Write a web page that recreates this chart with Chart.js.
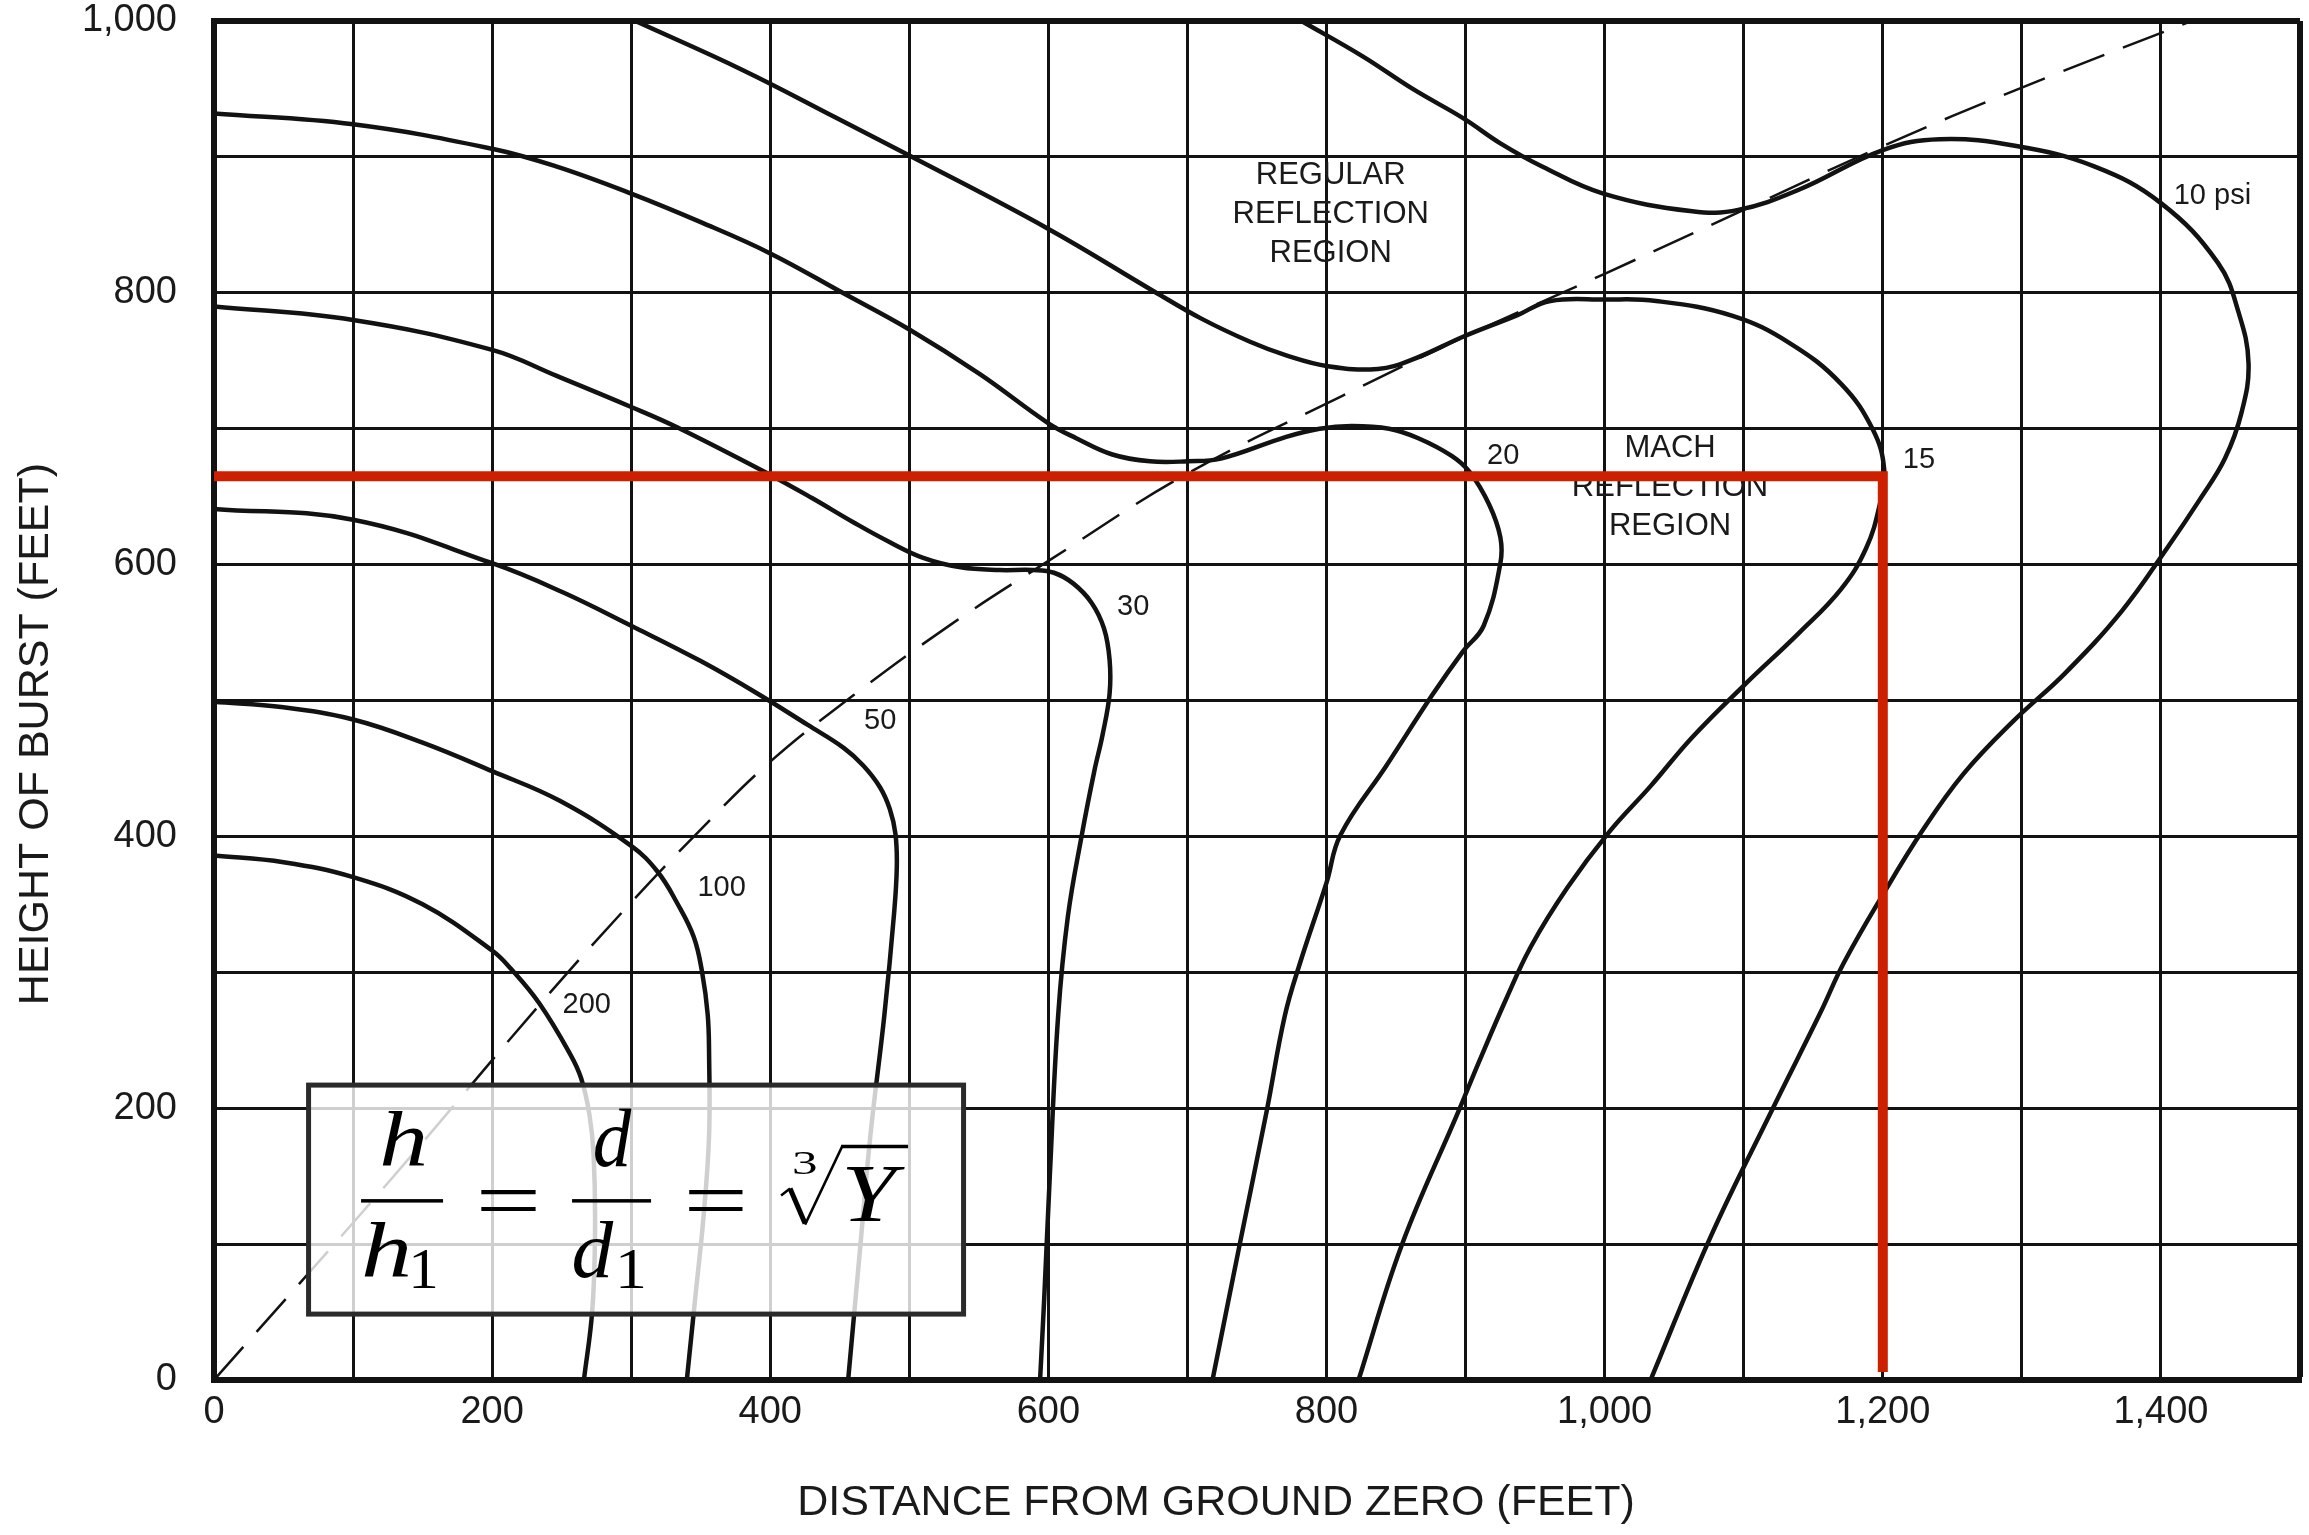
<!DOCTYPE html>
<html>
<head>
<meta charset="utf-8">
<title>Height of Burst vs Distance from Ground Zero</title>
<script src="https://cdn.jsdelivr.net/npm/chart.js@4.4.1/dist/chart.umd.min.js"></script>
<style>
  html, body { margin: 0; padding: 0; background: #ffffff; }
  #wrap { width: 2309px; height: 1535px; position: relative; }
</style>
</head>
<body>
<div id="wrap"><canvas id="chart" width="2309" height="1535"></canvas></div>
<script>
// Peak overpressure contours: [distance from ground zero (ft), height of burst (ft)]
const psi200 = [[0,386],[50,381],[100,370],[150,350],[200,316],[214,302],[234,277],[256,240],[264,222],[270,195],[273,165],[274,110],[272,51],[266,0]];
const psi100 = [[0,499],[50,495],[100,486],[150,469],[200,448],[249,426],[300,393],[319,374],[333,351],[345,326],[351,300],[355,269],[356,240],[356,180],[352,120],[346,60],[340,0]];
const psi50  = [[0,641],[100,633],[200,601],[250,580],[300,555],[350,529],[391,505],[427,482],[453,465],[467,452],[479,436],[486,420],[490,402],[491,378],[489,343],[482,268],[472,180],[464,90],[456,0]];
const psi30  = [[0,790],[100,780],[200,758],[246,739],[300,716],[333,701],[400,666],[430,649],[460,631],[485,617],[510,605],[537,598],[565,596],[589,596],[604,594],[618,586],[631,572],[640,553],[644,530],[644,505],[639,475],[633,448],[624,401],[614,341],[607,268],[601,150],[597,60],[594,0]];
const psi20  = [[0,932],[100,924],[200,906],[246,893],[300,873],[350,852],[400,829],[452,800],[500,773],[551,740],[600,704],[620,693],[646,681],[673,676],[700,676],[724,678],[771,694],[795,700],[818,702],[845,700],[866,693],[890,680],[903,668],[917,644],[925,620],[925,601],[913,555],[898,536],[876,504],[843,452],[810,401],[800,366],[781,307],[770,268],[757,198],[738,102],[718,0]];
const psi15  = [[303,1000],[380,964],[447,929],[500,901],[600,847],[676,801],[710,781],[745,764],[771,754],[801,746],[837,744],[862,751],[899,768],[936,783],[961,794],[1000,795],[1037,794],[1092,783],[1133,763],[1170,733],[1193,699],[1201,670],[1198,645],[1188,612],[1170,582],[1140,550],[1100,511],[1063,473],[1033,437],[1003,403],[973,362],[947,319],[929,280],[910,235],[895,198],[854,99],[823,0]];
const psi10  = [[782,1000],[826,974],[862,950],[899,928],[925,910],[955,893],[999,873],[1063,860],[1096,861],[1140,876],[1200,905],[1241,913],[1296,908],[1352,893],[1400,866],[1441,822],[1456,785],[1463,748],[1458,712],[1446,678],[1428,648],[1405,613],[1372,566],[1331,520],[1294,485],[1258,446],[1229,405],[1200,357],[1172,307],[1155,270],[1120,198],[1076,105],[1033,0]];

// Boundary between regular and Mach reflection (dashed)
const machBoundary = [[0,0],[125,145],[234,276],[296,347],[348,403],[400,455],[460,504],[530,556],[602,604],[700,667],[811,724],[900,768],[1000,814],[1100,861],[1200,908],[1300,951],[1422,1000]];

// Contour names and where each name sits (ft, ft)
const contourNames  = ['200', '100', '50', '30', '20', '15', '10 psi'];
const contourLabelX = [268, 365, 479, 661, 927, 1226, 1437];
const contourLabelY = [276, 362, 485, 569, 680, 677, 871];

// Region captions: lines and anchor (ft, ft) of the middle line
const regularRegion = ['REGULAR', 'REFLECTION', 'REGION'];
const regularAnchor = [803, 858];
const machRegion    = ['MACH', 'REFLECTION', 'REGION'];
const machAnchor    = [1047, 657];

// Tick labels
const xTickLabels = ['0', '200', '400', '600', '800', '1,000', '1,200', '1,400'];
const yTickLabels = ['0', '200', '400', '600', '800', '1,000'];

// Worked example: 1,200 ft from ground zero at a burst height of 665 ft
const markDistance = 1200;
const markHeight = 665;

const INK = '#121212';
const TEXT = '#1a1a1a';
const SANS = '"Liberation Sans", Arial, sans-serif';
const SERIF = '"Liberation Serif", "Times New Roman", serif';

const toPoints = arr => arr.map(p => ({ x: p[0], y: p[1] }));

function contour(label, pts) {
  return {
    label, data: toPoints(pts), showLine: true,
    borderColor: INK, borderWidth: 4.5, pointRadius: 0,
    tension: 0.4, fill: false
  };
}

// Draw a string so that its ink fills the given box exactly
function inkText(ctx, text, font, x0, y0, x1, y1) {
  ctx.save();
  ctx.font = font;
  ctx.textAlign = 'left';
  ctx.textBaseline = 'alphabetic';
  const m = ctx.measureText(text);
  const w = m.actualBoundingBoxLeft + m.actualBoundingBoxRight;
  const h = m.actualBoundingBoxAscent + m.actualBoundingBoxDescent;
  const sx = (x1 - x0) / w, sy = (y1 - y0) / h;
  ctx.translate(x0 + m.actualBoundingBoxLeft * sx, y0 + m.actualBoundingBoxAscent * sy);
  ctx.scale(sx, sy);
  ctx.fillText(text, 0, 0);
  ctx.restore();
}

const overlay = {
  id: 'overlay',
  afterDatasetsDraw(chart) {
    const { ctx, scales: { x, y } } = chart;
    ctx.save();

    // contour names
    ctx.fillStyle = TEXT;
    ctx.textAlign = 'center';
    ctx.textBaseline = 'middle';
    ctx.font = '29px ' + SANS;
    contourNames.forEach((t, i) => {
      ctx.fillText(t, x.getPixelForValue(contourLabelX[i]), y.getPixelForValue(contourLabelY[i]));
    });

    // region captions
    ctx.font = '31px ' + SANS;
    const caption = (lines, anchor) => {
      const cx = x.getPixelForValue(anchor[0]);
      const cy = y.getPixelForValue(anchor[1]);
      lines.forEach((t, i) => ctx.fillText(t, cx, cy + (i - 1) * 39));
    };
    caption(regularRegion, regularAnchor);
    caption(machRegion, machAnchor);

    // scaling-law box: h/h1 = d/d1 = cube root of Y
    const bx = x.getPixelForValue(68), by = y.getPixelForValue(217);
    ctx.fillStyle = 'rgba(255,255,255,0.8)';
    ctx.fillRect(bx, by, 655, 229);
    ctx.strokeStyle = '#2b2b2b';
    ctx.lineWidth = 5;
    ctx.strokeRect(bx, by, 655, 229);

    ctx.fillStyle = '#000';
    const up = '100px ' + SERIF;
    const it = 'italic 100px ' + SERIF;
    const g = (t, f, a, b, c, d) => inkText(ctx, t, f, bx + a, by + b, bx + c, by + d);
    g('h', it, 73.5, 26.5, 115.5, 81.5);
    g('h', it, 55.5, 137.5, 99.5, 192.5);
    g('1', up, 104.5, 164.5, 126.5, 202.5);
    ctx.fillRect(bx + 52.5, by + 114, 82, 3.5);
    g('=', up, 171.5, 105, 227.5, 125.5);
    g('d', it, 286.5, 24.5, 323.5, 81.5);
    g('d', it, 265.5, 136.5, 305.5, 192.5);
    g('1', up, 311.5, 164.5, 334.5, 202.5);
    ctx.fillRect(bx + 263.5, by + 114, 79, 3.5);
    g('=', up, 379.5, 105, 434.5, 125.5);
    // radical sign
    ctx.strokeStyle = '#000';
    ctx.lineCap = 'butt';
    ctx.lineJoin = 'miter';
    ctx.lineWidth = 2.5;
    ctx.beginPath();
    ctx.moveTo(bx + 472.5, by + 110.5);
    ctx.lineTo(bx + 481.5, by + 103.5);
    ctx.stroke();
    ctx.lineWidth = 5;
    ctx.beginPath();
    ctx.moveTo(bx + 481.5, by + 103.5);
    ctx.lineTo(bx + 496.5, by + 138.5);
    ctx.stroke();
    ctx.lineWidth = 2.5;
    ctx.beginPath();
    ctx.moveTo(bx + 496.5, by + 139.5);
    ctx.lineTo(bx + 533.5, by + 61.5);
    ctx.stroke();
    ctx.lineWidth = 3.5;
    ctx.beginPath();
    ctx.moveTo(bx + 532.5, by + 61.5);
    ctx.lineTo(bx + 599.5, by + 61.5);
    ctx.stroke();
    g('3', up, 485.5, 66.5, 507.5, 89.5);
    g('Y', it, 537.5, 81.5, 596.5, 136.5);

    // worked-example marker
    ctx.strokeStyle = '#cc2000';
    ctx.lineWidth = 10;
    ctx.lineJoin = 'miter';
    ctx.lineCap = 'butt';
    ctx.beginPath();
    ctx.moveTo(x.getPixelForValue(0), y.getPixelForValue(markHeight));
    ctx.lineTo(x.getPixelForValue(markDistance), y.getPixelForValue(markHeight));
    ctx.lineTo(x.getPixelForValue(markDistance), y.getPixelForValue(0) - 8);
    ctx.stroke();

    ctx.restore();
  },
  afterDraw(chart) {
    const { ctx, chartArea: ca } = chart;
    ctx.save();
    ctx.fillStyle = TEXT;
    ctx.textAlign = 'center';
    ctx.textBaseline = 'middle';
    ctx.font = '43px ' + SANS;
    ctx.fillText('DISTANCE FROM GROUND ZERO (FEET)', ca.left + 1002, ca.bottom + 123);
    ctx.translate(ca.left - 177.5, ca.top + 713);
    ctx.rotate(-Math.PI / 2);
    ctx.fillText('HEIGHT OF BURST (FEET)', 0, 0);
    ctx.restore();
  }
};

const tickFont = { family: 'Liberation Sans', size: 38 };

new Chart(document.getElementById('chart'), {
  type: 'scatter',
  data: {
    datasets: [
      contour('200 psi', psi200),
      contour('100 psi', psi100),
      contour('50 psi', psi50),
      contour('30 psi', psi30),
      contour('20 psi', psi20),
      contour('15 psi', psi15),
      contour('10 psi', psi10),
      {
        label: 'Mach reflection boundary', data: toPoints(machBoundary), showLine: true,
        borderColor: INK, borderWidth: 2.5, borderDash: [44, 20], pointRadius: 0,
        tension: 0.4, fill: false
      }
    ]
  },
  options: {
    responsive: false,
    animation: false,
    events: [],
    layout: { padding: { top: 21, right: 9, left: 0, bottom: 0 } },
    plugins: { legend: { display: false }, tooltip: { enabled: false }, title: { display: false } },
    scales: {
      x: {
        type: 'linear', min: 0, max: 1500,
        afterFit(s) { s.height = 155; s.paddingLeft = 0; s.paddingRight = 0; },
        ticks: {
          stepSize: 100, autoSkip: false, maxRotation: 0, minRotation: 0, padding: 10,
          color: TEXT, font: tickFont,
          callback: v => (v % 200 === 0 ? xTickLabels[v / 200] : '')
        },
        grid: { color: INK, lineWidth: c => (c.tick && c.tick.value === 1500 ? 6 : 3), drawTicks: false },
        border: { display: true, color: INK, width: 6 }
      },
      y: {
        type: 'linear', min: 0, max: 1000,
        afterFit(s) { s.width = 214; s.paddingTop = 0; s.paddingBottom = 0; },
        ticks: {
          stepSize: 100, autoSkip: false, padding: 37,
          color: TEXT, font: tickFont,
          callback: v => (v % 200 === 0 ? yTickLabels[v / 200] : '')
        },
        grid: { color: INK, lineWidth: c => (c.tick && c.tick.value === 1000 ? 6 : 3), drawTicks: false },
        border: { display: true, color: INK, width: 6 }
      }
    }
  },
  plugins: [overlay]
});
</script>
</body>
</html>
